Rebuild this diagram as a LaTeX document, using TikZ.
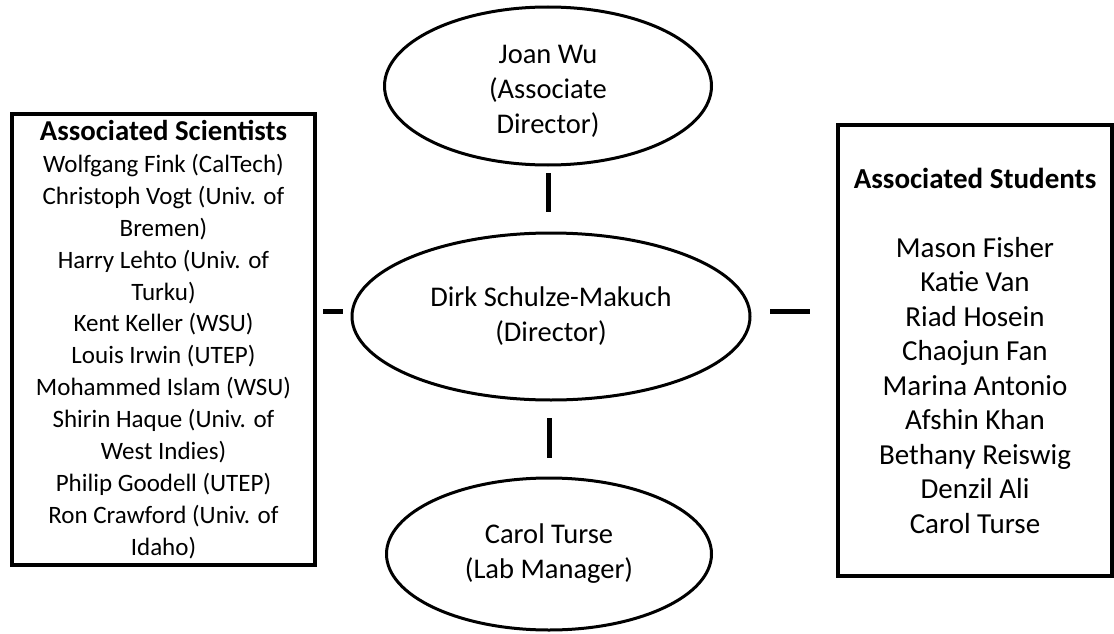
\documentclass[tikz,border=0pt]{standalone}
\usepackage{fontspec}
\setmainfont{Carlito}
\usetikzlibrary{shapes.geometric}
\begin{document}
\begin{tikzpicture}[x=1pt,y=-1pt,
  person/.style={draw, ellipse, line width=3pt, outer sep=0pt, inner sep=0pt,
    align=center, font=\fontsize{28.5}{35}\selectfont},
  listbox/.style={draw, rectangle, line width=3.5pt, outer sep=0pt, inner sep=0pt,
    align=center},
  link/.style={line width=5pt}]
\useasboundingbox (0,0) rectangle (1114,634);
\fill[white] (0,0) rectangle (1114,634);

% people
\node[person, minimum width=327pt, minimum height=158pt] (jw) at (548,86)
  {\\[-6pt]Joan Wu\\(Associate\\Director)};
\node[person, minimum width=398pt, minimum height=167pt] (dsm) at (551,316.5)
  {Dirk Schulze-Makuch\\(Director)};
\node[person, minimum width=325pt, minimum height=152pt] (ct) at (549,554)
  {Carol Turse\\(Lab Manager)};

% side lists
\node[listbox, minimum width=303pt, minimum height=451pt,
      font=\fontsize{25}{31.9}\selectfont] (sci) at (163.5,339.5)
  {{\fontsize{28.8}{31.9}\selectfont\bfseries Associated Scientists}\\
   Wolfgang Fink (CalTech)\\
   Christoph Vogt (Univ. of\\
   Bremen)\\
   Harry Lehto (Univ. of\\
   Turku)\\
   Kent Keller (WSU)\\
   Louis Irwin (UTEP)\\
   Mohammed Islam (WSU)\\
   Shirin Haque (Univ. of\\
   West Indies)\\
   Philip Goodell (UTEP)\\
   Ron Crawford (Univ. of\\
   Idaho)};
\node[listbox, minimum width=274pt, minimum height=451pt,
      font=\fontsize{29}{34.5}\selectfont] (stu) at (975,350.5)
  {\textbf{Associated Students}\\[34.5pt]
   Mason Fisher\\
   Katie Van\\
   Riad Hosein\\
   Chaojun Fan\\
   Marina Antonio\\
   Afshin Khan\\
   Bethany Reiswig\\
   Denzil Ali\\
   Carol Turse};

% short link bars
\draw[link, shorten <=8pt, shorten >=21pt] (jw.south) -- (jw.south |- dsm.north);
\draw[link, shorten <=18pt, shorten >=20pt] (dsm.south -| ct.north) -- (ct.north);
\draw[link, shorten <=8pt, shorten >=9pt]
  ([yshift=5pt]sci.east |- dsm.west) -- ([yshift=5pt]dsm.west);
\draw[link, shorten <=20pt, shorten >=28pt]
  ([yshift=5pt]dsm.east) -- ([yshift=5pt]dsm.east -| stu.west);
\end{tikzpicture}
\end{document}
